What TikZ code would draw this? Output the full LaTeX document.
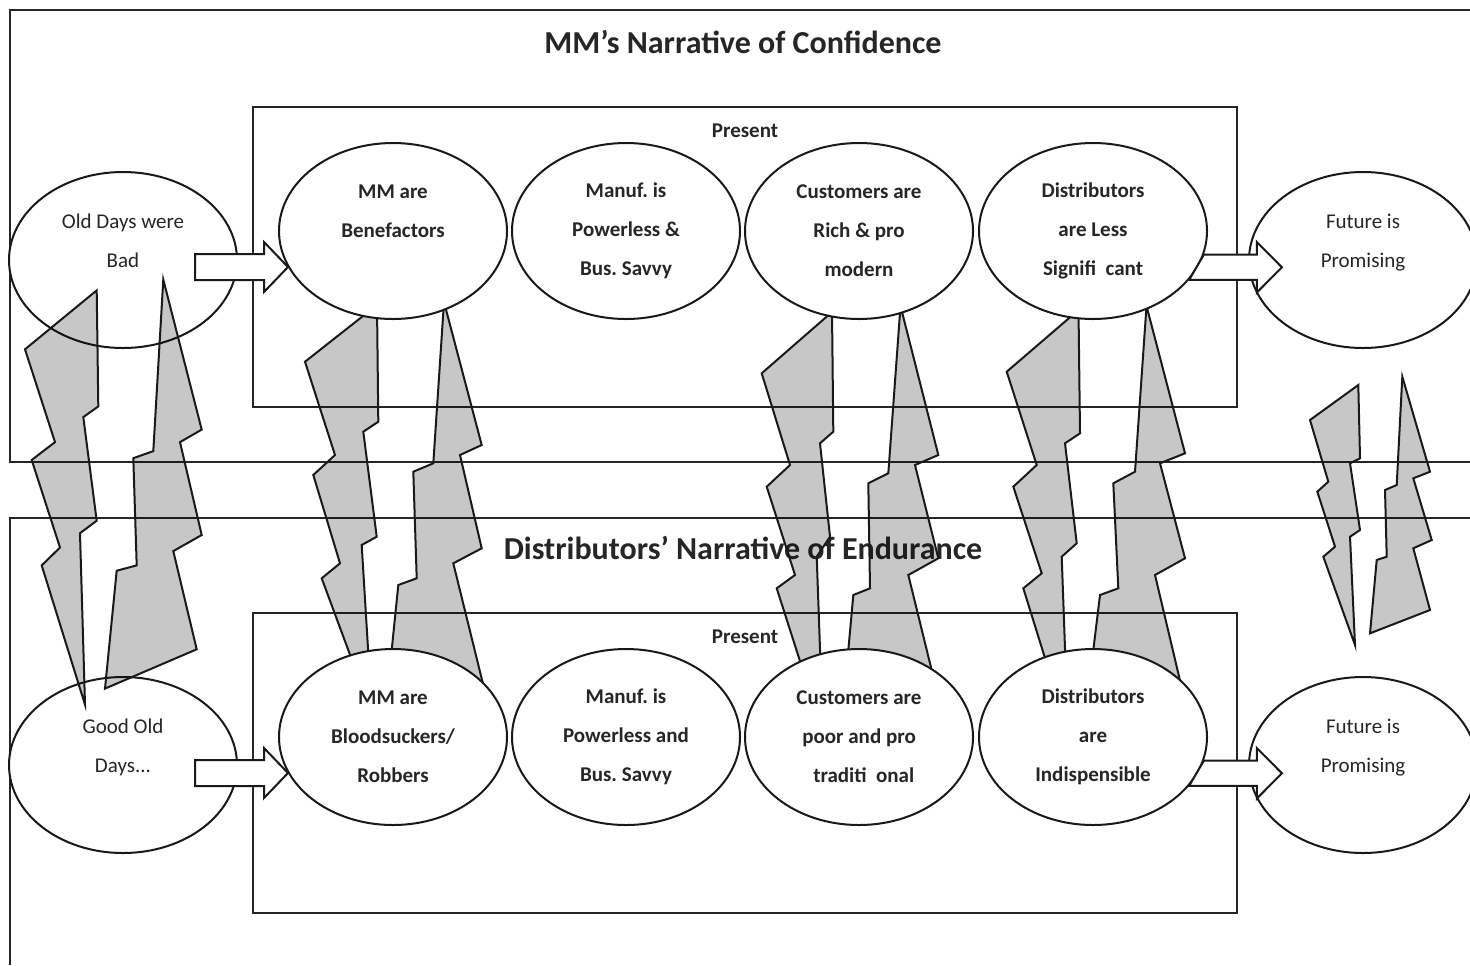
\documentclass[tikz,border=0pt]{standalone}
\usepackage{fontspec}
\setmainfont{Carlito}
\usetikzlibrary{shapes.geometric}
\newcommand{\ovalfont}{\fontsize{10.5}{19.5}\selectfont}
\tikzset{
  frameline/.style={draw=black!85, line width=1.3pt},
  oval/.style={ellipse, draw=black!90, line width=1pt, fill=white, minimum width=114pt, minimum height=88pt, inner sep=0pt, align=center, text=black!85, font=\ovalfont\bfseries},
  plainoval/.style={oval, font=\ovalfont},
  bolt/.style={draw=black!90, line width=1pt, fill=black, fill opacity=0.22},
  blockarrow/.style={draw=black!90, line width=1pt, fill=white},
  heading/.style={font=\fontsize{16}{19}\selectfont\bfseries, text=black!85},
  tag/.style={font=\fontsize{10.5}{12}\selectfont\bfseries, text=black!85}
}

\begin{document}
\begin{tikzpicture}[x=0.5pt,y=-0.5pt]
\useasboundingbox (0,0) rectangle (1470,965);
% the two narratives
\draw[frameline] (1470,10) -- (10,10) -- (10,462) -- (1470,462);
\draw[frameline] (1470,518) -- (10,518) -- (10,965);
\node[heading] (titleA) at (743,42) {MM’s Narrative of Confidence};
\node[heading] (titleB) at (743,548) {Distributors’ Narrative of Endurance};
\draw[frameline] (253,107) rectangle (1237,407);
\draw[frameline] (253,613) rectangle (1237,913);
\node[tag] (nowA) at (745,131) {Present};
\node[tag] (nowB) at (745,637) {Present};
% past and future
\node[plainoval] (old) at (123,260) {Old Days were\\Bad\\\mbox{}};
\node[plainoval] (good) at (123,765) {Good Old\\Days...\\\mbox{}};
\node[plainoval] (futA) at (1363,260) {Future is\\Promising\\\mbox{}};
\node[plainoval] (futB) at (1363,765) {Future is\\Promising\\\mbox{}};
% clashes
\draw[bolt] (96.7,290.4) -- (25,349.3) -- (55,442.1) -- (31.7,460) -- (60,547.5) -- (41.7,565.4) -- (85,704.6) -- (80,533.2) -- (96.7,520.7) -- (83.3,417.1) -- (98.3,406.4) -- cycle;
\draw[bolt] (163.3,279.6) -- (201.7,429.6) -- (180,442.1) -- (201.7,535) -- (173.3,551.1) -- (196.7,649.3) -- (105,688.6) -- (116.7,570.7) -- (136.7,565.4) -- (133.3,458.2) -- (153.3,451.1) -- cycle;
\draw[bolt] (377,305) -- (305,361.7) -- (335,455) -- (313.3,475) -- (340,563.3) -- (321.7,578.3) -- (372,714) -- (361.7,545) -- (376.7,536.7) -- (363.3,431.7) -- (378.3,421.7) -- cycle;
\draw[bolt] (444,302) -- (481.7,445) -- (460,455) -- (481.7,548.3) -- (453.3,563.3) -- (484.5,690) -- (386.6,700) -- (398.3,585) -- (416.7,578.3) -- (413.3,471.7) -- (433.3,463.3) -- cycle;
\draw[bolt] (832,312) -- (761.7,373.3) -- (790,465) -- (766.7,486.7) -- (795,575) -- (776.7,588.3) -- (823,733) -- (816.7,556.7) -- (830,536.7) -- (820,443.3) -- (833.3,431.7) -- cycle;
\draw[bolt] (900.5,306) -- (938.3,455) -- (915,465) -- (938.3,558.3) -- (908.3,575) -- (939,700) -- (843.8,700) -- (853.3,595) -- (870,588.3) -- (868.3,483.3) -- (888.3,473.3) -- cycle;
\draw[bolt] (1078.5,310) -- (1006.7,371.7) -- (1036.7,465) -- (1013.3,486.7) -- (1041.7,573.3) -- (1023.3,588.3) -- (1068,732) -- (1061.7,556.7) -- (1076.7,543.3) -- (1065,443.3) -- (1080,433.3) -- cycle;
\draw[bolt] (1146.5,306) -- (1185,453.3) -- (1160,463.3) -- (1185,558.3) -- (1155,575) -- (1184.6,700) -- (1087.2,700) -- (1100,595) -- (1118.3,588.3) -- (1113.3,483.3) -- (1135,471.7) -- cycle;
\draw[bolt] (1358.3,385) -- (1310,420) -- (1328.3,481.7) -- (1317.3,491.7) -- (1335,546.7) -- (1323.3,556.7) -- (1355,645) -- (1350,536.7) -- (1360,530) -- (1350,463.3) -- (1360,458.3) -- cycle;
\draw[bolt] (1402.3,376.7) -- (1430,471.7) -- (1413.3,478.3) -- (1431.7,540) -- (1413.3,548.3) -- (1430,610) -- (1370,633.3) -- (1376.7,560) -- (1386.7,556.7) -- (1385,490) -- (1396.7,485) -- cycle;
% present, MM side
\node[oval] (mmA) at (393,231) {MM are\\Benefactors\\\mbox{}};
\node[oval] (manA) at (626,231) {Manuf.\ is\\Powerless \&\\Bus.\ Savvy};
\node[oval] (custA) at (859,231) {Customers are\\Rich \& pro\\modern};
\node[oval] (distA) at (1093,231) {Distributors\\are Less\\Signifi\ \ cant};
% present, distributor side
\node[oval] (mmB) at (393,737) {MM are\\Bloodsuckers/\\Robbers};
\node[oval] (manB) at (626,737) {Manuf.\ is\\Powerless and\\Bus.\ Savvy};
\node[oval] (custB) at (859,737) {Customers are\\poor and pro\\\ \ traditi\ \ onal};
\node[oval] (distB) at (1093,737) {Distributors\\are\\Indispensible};
% from past to present to future
\draw[blockarrow] ([shift={(72,-6)}]old.center) -- ++(69,0) -- ++(0,-12) -- ++(24,25) -- ++(-24,25) -- ++(0,-12) -- ++(-69,0) -- cycle;
\draw[blockarrow] ([shift={(72,-5)}]good.center) -- ++(69,0) -- ++(0,-12) -- ++(24,25) -- ++(-24,25) -- ++(0,-12) -- ++(-69,0) -- cycle;
\draw[blockarrow] (distA.-12) -- ++(53,0) -- ++(0,-12.5) -- ++(25,25.2) -- ++(-25,25.2) -- ++(0,-12.5) -- (distA.-27) -- cycle;
\draw[blockarrow] (distB.-12) -- ++(53,0) -- ++(0,-12.5) -- ++(25,25.2) -- ++(-25,25.2) -- ++(0,-12.5) -- (distB.-27) -- cycle;
\end{tikzpicture}
\end{document}
